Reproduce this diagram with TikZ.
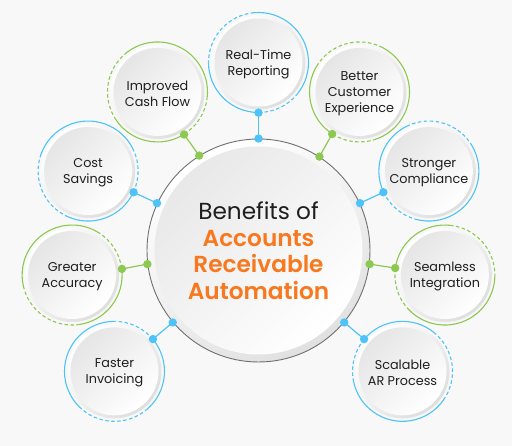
\documentclass[tikz,border=0pt]{standalone}
\usepackage{fontspec}
\setmainfont{Poppins}[BoldFont={Poppins SemiBold}]
\usetikzlibrary{calc}
\definecolor{bg}{HTML}{F8F8F8}
\definecolor{skyb}{HTML}{4DC3F7}
\definecolor{leaf}{HTML}{8DC850}
\definecolor{orng}{HTML}{F7781E}
\definecolor{ringgray}{HTML}{707070}
\definecolor{txt}{HTML}{1E1E1E}
\begin{document}
\begin{tikzpicture}[x=1pt,y=1pt,
  hub/.style={circle, minimum size=223pt, inner sep=0pt},
  sat/.style={circle, minimum size=100pt, inner sep=0pt, align=center, text=txt, font=\fontsize{12.8}{16.2}\selectfont},
  link/.style={line width=1.2pt},
  ringsolid/.style={line width=1.1pt},
  ringdash/.style={line width=1.1pt, dash pattern=on 3.5pt off 2.5pt},
  dotmark/.style={radius=4.2pt}
]
\fill[bg] (0,0) rectangle (512,446);
\useasboundingbox (0,0) rectangle (512,446);
\coordinate (C) at (258.5,195.5);

% central hub
\shade[top color=white, bottom color=black!12, shading angle=30] (C) circle (111.5);
\shade[top color=black!9, bottom color=white, shading angle=45] (C) circle (104);
\node[hub, draw=ringgray, line width=0.9pt] (hub) at (C) {};
\node[align=center, text=txt, font=\fontsize{23.2}{26.5}\selectfont] (title) at (C)
  {Benefits of\\{\bfseries\color{orng}Accounts}\\{\bfseries\color{orng}Receivable}\\{\bfseries\color{orng}Automation}};

\foreach \nm/\ang/\col/\txt in {
  s1/90/skyb/{Real-Time\\Reporting},
  s2/122.5/leaf/{Improved\\Cash Flow},
  s3/155/skyb/{Cost\\Savings},
  s4/187.5/leaf/{Greater\\Accuracy},
  s5/220/skyb/{Faster\\Invoicing},
  s6/57.5/leaf/{Better\\Customer\\Experience},
  s7/25/skyb/{Stronger\\Compliance},
  s8/-7.5/leaf/{Seamless\\Integration},
  s9/-40/skyb/{Scalable\\AR Process}}{
  \pgfmathsetmacro\aA{\ang+180}
  \pgfmathsetmacro\aB{\ang+230}
  \pgfmathsetmacro\aC{\ang+365}
  \pgfmathsetmacro\aD{\ang+450}
  \pgfmathsetmacro\aE{\ang+540}
  \coordinate (P) at ($(C)+(\ang:188)$);
  \shade[top color=white, bottom color=black!13, shading angle=45] (P) circle (47);
  \shade[top color=black!10, bottom color=white, shading angle=45] (P) circle (44);
  \node[sat] (\nm) at (P) {};
  \node[align=center, text=txt, font=\fontsize{12.8}{16.2}\selectfont, yshift=-1.5pt] (\nm t) at (P) {\txt};
  \draw[ringdash, \col] ($(P)+(\aA:50)$) arc[start angle=\aA, end angle=\aB, radius=50];
  \draw[ringsolid, \col] ($(P)+(\aB:50)$) arc[start angle=\aB, end angle=\aC, radius=50];
  \draw[ringdash, \col] ($(P)+(\aC:50)$) arc[start angle=\aC, end angle=\aD, radius=50];
  \draw[ringsolid, \col] ($(P)+(\aD:50)$) arc[start angle=\aD, end angle=\aE, radius=50];
  \draw[link, \col] (hub.\ang) -- (\nm.\aA);
  \fill[\col] (hub.\ang) circle[dotmark];
  \fill[\col] (\nm.\aA) circle[dotmark];
}
\end{tikzpicture}
\end{document}
